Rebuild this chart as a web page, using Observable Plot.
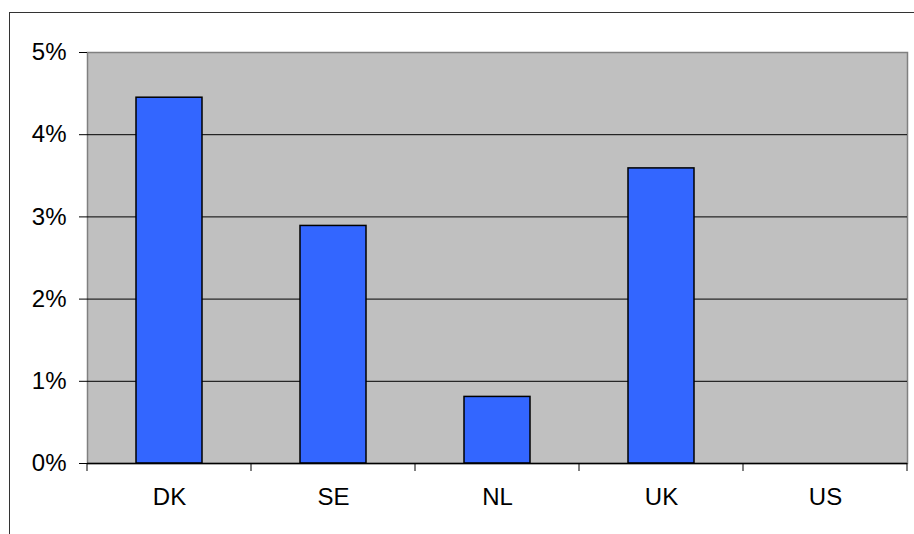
<!DOCTYPE html>
<html>
<head>
<meta charset="utf-8">
<script src="https://cdn.jsdelivr.net/npm/d3@7"></script>
<script src="https://cdn.jsdelivr.net/npm/@observablehq/plot@0.6"></script>
<style>
  html, body { margin: 0; padding: 0; background: #fff; }
  #wrap { position: relative; width: 914px; height: 534px; overflow: hidden; }
  #border { position: absolute; left: 9px; top: 12px; width: 1000px; height: 1000px;
            border-left: 1px solid #333; border-top: 1px solid #333; pointer-events: none; }
  #chart { position: absolute; left: 0; top: 0; }
</style>
</head>
<body>
<div id="wrap"><div id="chart"></div><div id="border"></div></div>
<script>
const categories = ["DK", "SE", "NL", "UK", "US"];
const values = [0.0445, 0.0289, 0.0081, 0.0359, 0];
const yTicks = [0, 0.01, 0.02, 0.03, 0.04, 0.05];
const gridTicks = [0.01, 0.02, 0.03, 0.04];

const data = categories.map((c, i) => ({country: c, value: values[i]}));

const boundaryTicks = (index, scales, values, dims) => {
  const g = d3.create("svg:g");
  const n = categories.length;
  const L = dims.width - dims.marginLeft - dims.marginRight;
  const y0 = dims.height - dims.marginBottom;
  for (let k = 0; k <= n; k++) {
    const x = dims.marginLeft + k * L / n;
    g.append("line").attr("x1", x).attr("x2", x).attr("y1", y0).attr("y2", y0 + 8)
      .attr("stroke", "#000").attr("stroke-width", 1);
  }
  return g.node();
};

const chart = Plot.plot({
  width: 914,
  height: 534,
  marginLeft: 87,
  marginRight: 7,
  marginTop: 52,
  marginBottom: 71,
  style: {fontFamily: "'Liberation Sans', Arial, sans-serif", fontSize: "24px", background: "transparent", color: "#000"},
  x: {domain: categories, paddingInner: 0.6, paddingOuter: 0.3, label: null},
  y: {domain: [0, 0.05], label: null},
  marks: [
    Plot.frame({fill: "#C0C0C0", stroke: "#808080", strokeWidth: 1.5}),
    Plot.ruleY(gridTicks, {stroke: "#000", strokeWidth: 1}),
    Plot.barY(data, {x: "country", y: "value", fill: "#3366FF", stroke: "#000", strokeWidth: 1.5}),
    Plot.ruleY([0], {stroke: "#000", strokeWidth: 1.5}),
    Plot.axisY({ticks: yTicks, tickFormat: d3.format(".0%"), tickSize: 8, tickPadding: 13, fontSize: 24, stroke: "#000", label: null}),
    Plot.axisX({tickSize: 0, tickPadding: 24, fontSize: 24, label: null}),
    boundaryTicks
  ]
});
document.getElementById("chart").appendChild(chart);
</script>
</body>
</html>
